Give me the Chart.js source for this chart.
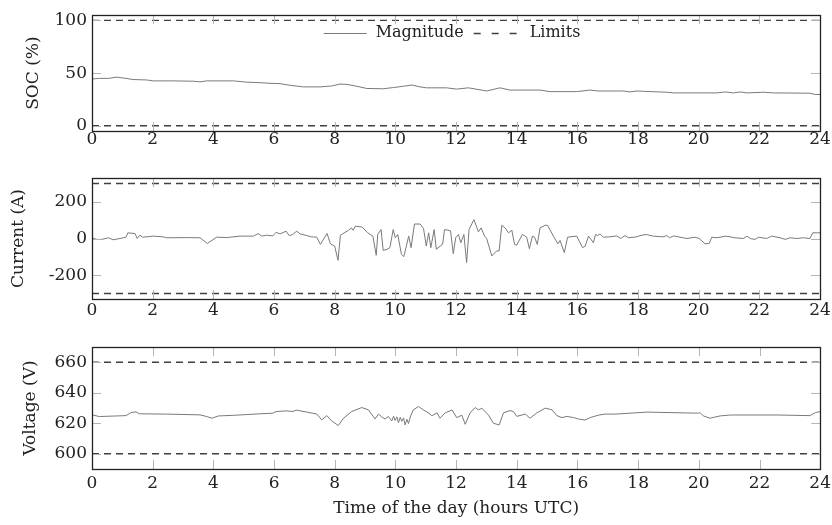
<!DOCTYPE html>
<html>
<head>
<meta charset="utf-8">
<script src="https://cdn.jsdelivr.net/npm/chart.js@4.4.0/dist/chart.umd.min.js"></script>
<style>
    body { margin: 0; background: #fff; }
    #wrap { position: relative; width: 832px; height: 525px; overflow: hidden; }
    canvas { position: absolute; left: 0; }
</style>
</head>
<body>
<div id="wrap">
    <canvas id="soc" width="832" height="156" style="top:0px"></canvas>
    <canvas id="cur" width="832" height="164" style="top:160px"></canvas>
    <canvas id="volt" width="835" height="195" style="top:330px"></canvas>
</div>
<script>
// 時間刻度 (hours UTC)
const hourTicks = [0, 2, 4, 6, 8, 10, 12, 14, 16, 18, 20, 22, 24];

// SOC (%)
const socHours = [0, 0.24, 0.57, 0.8, 1.12, 1.35, 1.8, 2.02, 2.68, 3.34, 3.56, 3.78, 4.66, 5.1, 5.54, 5.87, 6.2, 6.53, 6.97, 7.52, 7.9, 8.18, 8.4, 8.68, 9.06, 9.6, 9.94, 10.27, 10.55, 10.81, 11.03, 11.69, 12.02, 12.41, 13.01, 13.45, 13.78, 14.77, 15.1, 15.98, 16.42, 16.69, 17.52, 17.74, 17.96, 18.18, 18.95, 19.17, 20.6, 20.88, 21.15, 21.37, 21.59, 22.13, 22.46, 23.67, 23.84, 24];
const socValues = [44.4, 45, 45, 46.2, 45, 43.9, 43.5, 42.6, 42.6, 42.3, 41.7, 42.6, 42.6, 41.4, 40.9, 40.3, 40, 38.4, 36.9, 36.9, 37.8, 39.6, 39.3, 37.8, 35.4, 35.1, 36.3, 37.5, 38.7, 36.9, 36, 36, 34.8, 36, 33, 36, 33.9, 33.9, 32.4, 32.4, 33.9, 33, 33, 32.1, 33, 32.7, 31.8, 31.2, 31.2, 32.1, 31.2, 32.1, 31.2, 31.8, 31.2, 30.9, 29.7, 29.7];
const socLimits = [0, 100];
const socTicks = [0, 50, 100];

// Current (A)
const curHours = [0, 0.15, 0.32, 0.54, 0.7, 0.92, 1.12, 1.18, 1.42, 1.49, 1.58, 1.67, 2.02, 2.35, 2.46, 3.12, 3.56, 3.8, 4.11, 4.44, 4.88, 5.32, 5.48, 5.6, 5.76, 5.96, 6.07, 6.2, 6.4, 6.5, 6.62, 6.75, 6.86, 7.08, 7.24, 7.41, 7.53, 7.75, 7.86, 8.0, 8.11, 8.19, 8.46, 8.55, 8.61, 8.68, 8.9, 9.09, 9.26, 9.37, 9.42, 9.53, 9.6, 9.73, 9.82, 9.93, 10.0, 10.08, 10.2, 10.28, 10.44, 10.52, 10.63, 10.82, 10.93, 11.02, 11.1, 11.17, 11.28, 11.35, 11.48, 11.56, 11.62, 11.82, 11.91, 11.99, 12.08, 12.16, 12.26, 12.35, 12.43, 12.59, 12.74, 12.83, 12.94, 13.01, 13.18, 13.34, 13.42, 13.51, 13.62, 13.73, 13.84, 13.93, 14.0, 14.19, 14.33, 14.42, 14.52, 14.59, 14.68, 14.77, 14.94, 15.02, 15.21, 15.36, 15.43, 15.57, 15.68, 15.98, 16.17, 16.26, 16.37, 16.53, 16.6, 16.67, 16.75, 16.86, 17.05, 17.3, 17.43, 17.57, 17.68, 17.96, 18.07, 18.27, 18.5, 18.83, 18.95, 19.04, 19.17, 19.61, 19.88, 20.02, 20.21, 20.35, 20.43, 20.6, 20.9, 21.2, 21.47, 21.59, 21.7, 21.86, 21.97, 22.24, 22.41, 22.68, 22.85, 23.01, 23.23, 23.45, 23.67, 23.76, 23.91, 24];
const curValues = [4, -5, -5, 4, -7, 0, 7, 31, 27, 0, 18, 7, 13, 9, 4, 5, 4, -27, 7, 5, 13, 13, 27, 13, 18, 14, 34, 25, 40, 16, 22, 40, 25, 16, 9, 7, -32, 27, -29, -41, -119, 18, 45, 58, 45, 67, 63, 31, 13, -92, 22, 49, -65, -59, -50, 49, 4, 22, -86, -99, 13, -50, 79, 79, 54, -41, 31, -50, 49, -59, -41, -32, 49, 42, -83, 4, 22, -23, 22, -131, 49, 103, 36, 58, 13, 0, -95, -68, -68, 72, 58, 31, 45, -32, -36, 22, 7, -56, 13, 7, -32, 58, 72, 72, 13, -29, -11, -77, 7, 13, -50, -41, 13, -23, 22, 16, 25, 7, 9, 14, 0, 16, 4, 9, 16, 22, 13, 9, 16, 4, 14, 0, 7, 0, -29, -27, 7, 4, 13, 4, 0, 13, 0, -5, 7, 0, 13, 4, -5, 4, 0, 4, 0, 31, 31, 31];
const curLimits = [-300, 300];
const curTicks = [-200, 0, 200];

// Voltage (V)
const voltHours = [0, 0.24, 1.12, 1.29, 1.45, 1.56, 2.46, 3.56, 3.78, 3.95, 4.17, 4.66, 5.54, 5.96, 6.07, 6.4, 6.62, 6.73, 7.06, 7.41, 7.57, 7.74, 7.9, 8.12, 8.29, 8.56, 8.89, 9.11, 9.33, 9.44, 9.55, 9.66, 9.77, 9.88, 9.94, 9.99, 10.05, 10.1, 10.16, 10.21, 10.27, 10.32, 10.38, 10.43, 10.49, 10.59, 10.76, 10.92, 11.09, 11.2, 11.37, 11.47, 11.64, 11.8, 11.86, 12.02, 12.19, 12.3, 12.46, 12.63, 12.74, 12.85, 13.07, 13.23, 13.42, 13.56, 13.78, 13.89, 14.0, 14.28, 14.44, 14.66, 14.94, 15.16, 15.32, 15.49, 15.65, 15.87, 16.03, 16.25, 16.42, 16.69, 16.91, 17.24, 18.29, 19.99, 20.04, 20.15, 20.37, 20.7, 21.04, 22.58, 23.67, 23.84, 24];
const voltValues = [625.5, 624.4, 625, 627, 627.5, 626.2, 626, 625.5, 624.4, 623.3, 624.8, 625.2, 626.2, 626.6, 627.7, 628.1, 627.7, 628.6, 627.4, 626, 622.2, 625, 621.5, 618.5, 623.3, 627.7, 630.3, 628.8, 622.8, 626, 624.2, 622.8, 624.5, 621.5, 624.6, 621.8, 624.2, 620.4, 623.9, 621.2, 623.5, 618.9, 622.6, 619.8, 624.1, 628.8, 631, 628.8, 626.8, 624.9, 626.8, 623.3, 626.8, 628.1, 628.8, 623.7, 625.3, 619.3, 626.8, 630.3, 628.8, 629.9, 625.3, 620, 618.9, 626.8, 628.3, 627.7, 624.5, 626, 623.3, 626.8, 629.9, 628.8, 625, 623.7, 624.5, 623.7, 622.8, 622.1, 623.7, 625.3, 626, 626, 627.3, 626.6, 627, 624.8, 623.3, 624.8, 625.4, 625.4, 625, 627, 627.6];
const voltLimits = [600, 660];
const voltTicks = [600, 620, 640, 660];

const FAMILY = '"DejaVu Serif", serif';
const FONT = { family: FAMILY, size: 17 };
const TEXT = '#222';

// 框線與向內刻度
const frameTicks = {
    id: 'frameTicks',
    afterDatasetsDraw(chart) {
        const { ctx, chartArea: a, scales } = chart;
        const len = 9;
        ctx.save();
        ctx.strokeStyle = '#b4b4b4';
        ctx.lineWidth = 1;
        ctx.beginPath();
        scales.x.ticks.forEach(t => {
            if (t.value <= 0 || t.value >= 24) return;
            const px = Math.round(scales.x.getPixelForValue(t.value)) + 0.5;
            ctx.moveTo(px, a.top); ctx.lineTo(px, a.top + len);
            ctx.moveTo(px, a.bottom); ctx.lineTo(px, a.bottom - len);
        });
        scales.y.ticks.forEach(t => {
            const py = Math.round(scales.y.getPixelForValue(t.value)) + 0.5;
            ctx.moveTo(a.left, py); ctx.lineTo(a.left + len, py);
            ctx.moveTo(a.right, py); ctx.lineTo(a.right - len, py);
        });
        ctx.stroke();
        ctx.strokeStyle = '#222';
        ctx.lineWidth = 1.3;
        ctx.strokeRect(Math.round(a.left) + 0.5, Math.round(a.top) + 0.5,
            Math.round(a.width), Math.round(a.height));
        ctx.restore();
    }
};

// 圖內置中的圖例 (Magnitude / Limits)
const insideLegend = {
    id: 'insideLegend',
    afterDraw(chart, args, opts) {
        if (!opts.show) return;
        const { ctx, chartArea: a } = chart;
        const items = chart.data.datasets.slice(0, 2);
        const sample = 43, textGap = [9, 13], itemGap = 10;
        ctx.save();
        ctx.font = '16px ' + FAMILY;
        const widths = items.map((d, i) => sample + textGap[i] + ctx.measureText(d.label).width);
        const total = widths.reduce((s, w) => s + w, 0) + itemGap * (items.length - 1);
        let x = (a.left + a.right) / 2 - total / 2 - 4;
        const y = a.top + 18;
        items.forEach((d, i) => {
            ctx.strokeStyle = d.borderColor;
            ctx.lineWidth = d.borderWidth;
            ctx.setLineDash(d.borderDash ? [7, 11] : []);
            ctx.beginPath();
            ctx.moveTo(x, Math.round(y) + 0.5);
            ctx.lineTo(x + sample, Math.round(y) + 0.5);
            ctx.stroke();
            ctx.setLineDash([]);
            ctx.fillStyle = TEXT;
            ctx.textBaseline = 'middle';
            ctx.textAlign = 'left';
            ctx.fillText(d.label, x + sample + textGap[i], y);
            x += widths[i] + itemGap;
        });
        ctx.restore();
    }
};

function toPoints(xs, ys) {
    return xs.map((x, i) => ({ x: x, y: ys[i] }));
}

function limitLine(v) {
    return [{ x: hourTicks[0], y: v }, { x: hourTicks[hourTicks.length - 1], y: v }];
}

/**
 * 建立一個子圖
 */
function makePanel(id, opt) {
    const ctx = document.getElementById(id).getContext('2d');
    const datasets = [
        {
            label: 'Magnitude',
            data: toPoints(opt.hours, opt.values),
            borderColor: '#7a7a7a',
            borderWidth: 1,
            pointRadius: 0,
            tension: 0
        },
        {
            label: 'Limits',
            data: limitLine(opt.limits[1]),
            borderColor: '#404040',
            borderWidth: 1.3,
            borderDash: [7, 5],
            pointRadius: 0
        },
        {
            label: 'Limits',
            data: limitLine(opt.limits[0]),
            borderColor: '#404040',
            borderWidth: 1.3,
            borderDash: [7, 5],
            pointRadius: 0
        }
    ];

    return new Chart(ctx, {
        type: 'line',
        data: { datasets: datasets },
        options: {
            responsive: false,
            animation: false,
            layout: { padding: { left: 0, right: opt.right, top: opt.top, bottom: 0 } },
            plugins: {
                legend: { display: false },
                tooltip: { enabled: false },
                insideLegend: { show: opt.legend }
            },
            scales: {
                x: {
                    type: 'linear',
                    min: 0,
                    max: 24,
                    grid: { display: false, drawTicks: false },
                    border: { display: false },
                    ticks: { color: TEXT, font: FONT, padding: opt.labelPad, maxRotation: 0 },
                    afterBuildTicks: s => { s.ticks = hourTicks.map(v => ({ value: v })); },
                    afterFit: s => { s.height = opt.xHeight; },
                    title: {
                        display: !!opt.xTitle,
                        text: opt.xTitle || '',
                        color: TEXT,
                        font: FONT,
                        padding: { top: 0, bottom: 6 }
                    }
                },
                y: {
                    min: opt.range[0],
                    max: opt.range[1],
                    grid: { display: false, drawTicks: false },
                    border: { display: false },
                    ticks: { color: TEXT, font: FONT, padding: 5 },
                    afterBuildTicks: s => { s.ticks = opt.ticks.map(v => ({ value: v })); },
                    afterFit: s => { s.width = 92; },
                    title: {
                        display: true,
                        text: opt.yTitle,
                        color: TEXT,
                        font: FONT,
                        padding: { top: opt.titlePad, bottom: 0 }
                    }
                }
            }
        },
        plugins: [frameTicks, insideLegend]
    });
}

document.addEventListener('DOMContentLoaded', function() {
    makePanel('soc', {
        hours: socHours, values: socValues, limits: socLimits, ticks: socTicks,
        range: [-5, 105], yTitle: 'SOC (%)', titlePad: 23, top: 10, right: 12, xHeight: 25,
        labelPad: -2, legend: true
    });
    makePanel('cur', {
        hours: curHours, values: curValues, limits: curLimits, ticks: curTicks,
        range: [-330, 330], yTitle: 'Current (A)', titlePad: 8, top: 18, right: 12, xHeight: 25,
        labelPad: 1, legend: false
    });
    makePanel('volt', {
        hours: voltHours, values: voltValues, limits: voltLimits, ticks: voltTicks,
        range: [590, 670], yTitle: 'Voltage (V)', titlePad: 20, top: 17, right: 12, xHeight: 56,
        labelPad: 4, legend: false, xTitle: 'Time of the day (hours UTC)'
    });
});
</script>
</body>
</html>
